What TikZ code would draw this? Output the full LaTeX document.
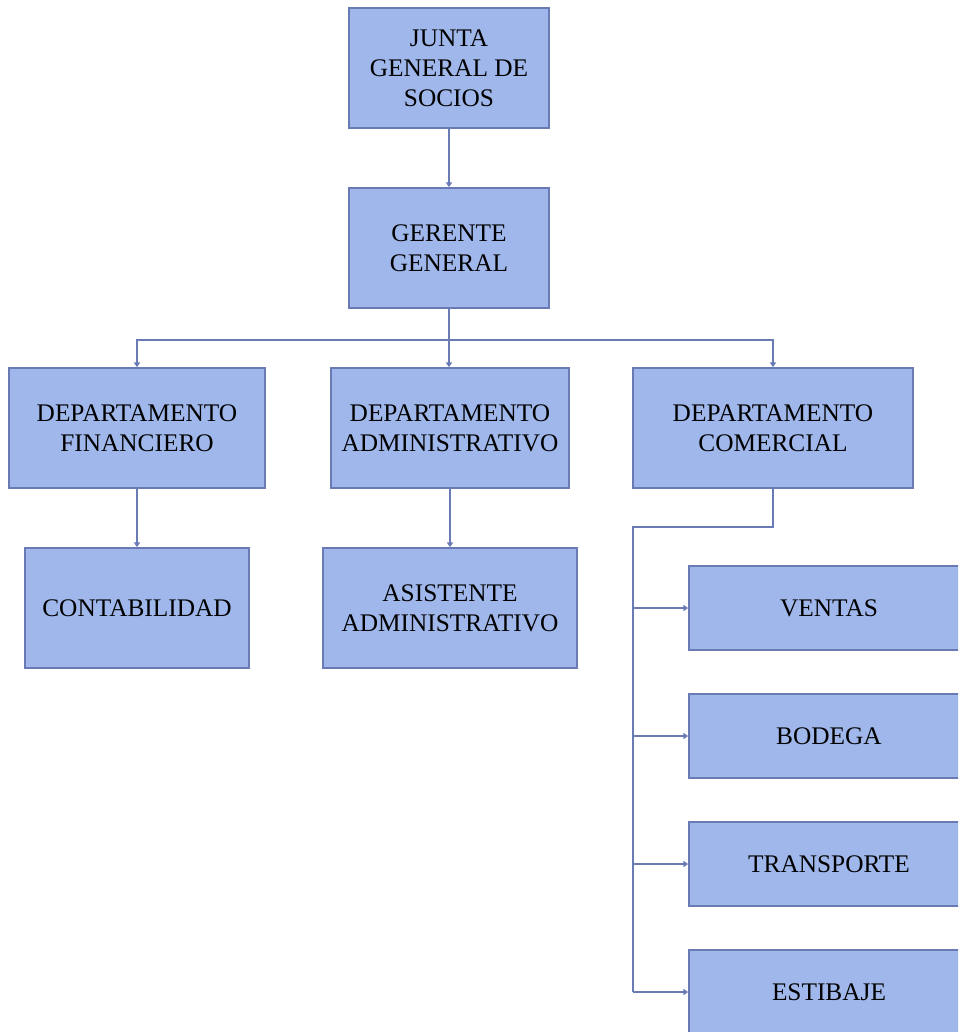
\documentclass[tikz,border=0pt]{standalone}
\usepackage{fontspec}
\setmainfont{Liberation Serif}
\usetikzlibrary{arrows.meta}
\definecolor{cajafill}{HTML}{9FB7EA}
\definecolor{cajaline}{HTML}{6A7AB4}
\tikzset{
  caja/.style={draw=cajaline,fill=cajafill,line width=1.3pt,align=center,
    inner sep=0pt,font=\fontsize{19}{22.5}\selectfont},
  enlace/.style={draw=cajaline,line width=1.3pt,
    -{Triangle[length=3.5pt,width=4.5pt]}}
}
\begin{document}
\begin{tikzpicture}[x=0.75pt,y=-0.75pt]
      \useasboundingbox (0,0) rectangle (958,1032);
      \begin{scope}
      \clip (0,0) rectangle (958,1032);
      %niveles superiores
      \node[caja,minimum width=150pt,minimum height=90pt] (junta) at (449,68) {JUNTA\\GENERAL DE\\SOCIOS};
      \node[caja,minimum width=150pt,minimum height=90pt] (gerente) at (449,248) {GERENTE\\GENERAL};
      %departamentos
      \node[caja,minimum width=192pt,minimum height=90pt] (financiero) at (137,428) {DEPARTAMENTO\\FINANCIERO};
      \node[caja,minimum width=178.5pt,minimum height=90pt] (administrativo) at (450,428) {DEPARTAMENTO\\ADMINISTRATIVO};
      \node[caja,minimum width=210pt,minimum height=90pt] (comercial) at (773,428) {DEPARTAMENTO\\COMERCIAL};
      \node[caja,minimum width=168pt,minimum height=90pt] (contabilidad) at (137,608) {CONTABILIDAD};
      \node[caja,minimum width=190.5pt,minimum height=90pt] (asistente) at (450,608) {ASISTENTE\\ADMINISTRATIVO};
      %areas comerciales
      \foreach \nom/\txt/\y in {ventas/VENTAS/608,bodega/BODEGA/736,transporte/TRANSPORTE/864,estibaje/ESTIBAJE/992}
        \node[caja,minimum width=210pt,minimum height=63pt] (\nom) at (829,\y) {\txt};
      \end{scope}
      %enlaces
      \coordinate (bus) at (449,340);
      \draw[enlace] (junta) -- (gerente);
      \draw[enlace] (gerente.south) -- (bus) -- (administrativo.north -| bus);
      \draw[enlace] (bus) -| (financiero.north);
      \draw[enlace] (bus) -| (comercial.north);
      \draw[enlace] (financiero) -- (contabilidad);
      \draw[enlace] (administrativo) -- (asistente);
      \coordinate (codo) at (633,527);
      \draw[cajaline,line width=1.3pt] (comercial.south) |- (codo) -- (codo |- estibaje);
      \foreach \nom in {ventas,bodega,transporte,estibaje}
        \draw[enlace] (codo |- \nom) -- (\nom.west);
    \end{tikzpicture}
\end{document}
